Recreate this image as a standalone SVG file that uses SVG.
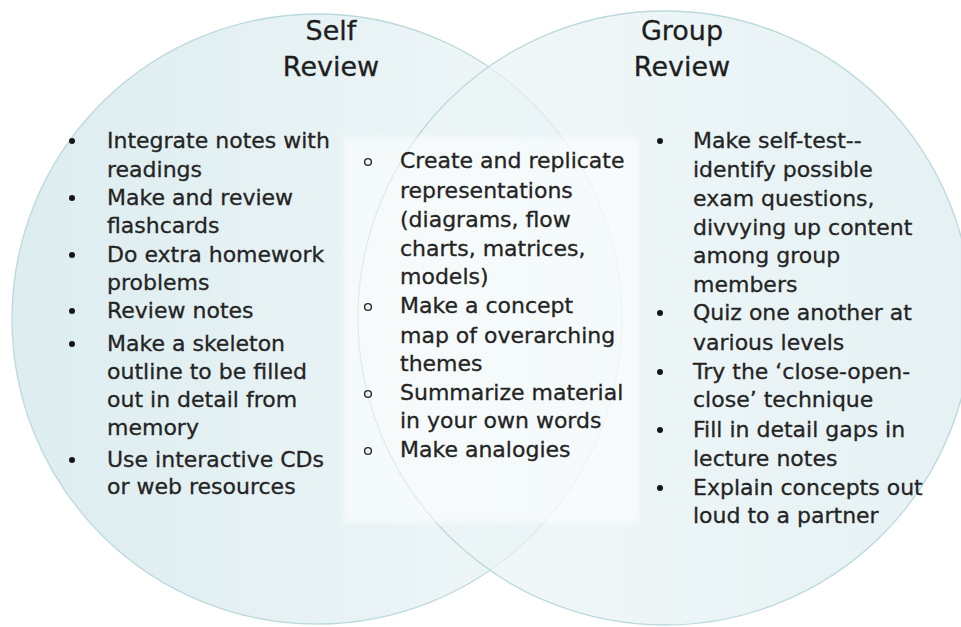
<svg xmlns="http://www.w3.org/2000/svg" width="961" height="627" viewBox="0 0 961 627">
  <defs>
    <linearGradient id="fillLeft" x1="0" y1="0" x2="1" y2="0">
      <stop offset="0" stop-color="#d9ebee"/>
      <stop offset="0.7" stop-color="#e9f3f5"/>
      <stop offset="1" stop-color="#eff6f7"/>
    </linearGradient>
    <linearGradient id="fillRight" x1="0" y1="0" x2="1" y2="0">
      <stop offset="0" stop-color="#eff6f7"/>
      <stop offset="0.3" stop-color="#e9f3f5"/>
      <stop offset="1" stop-color="#d9ebee"/>
    </linearGradient>
    <filter id="soft" x="-5%" y="-5%" width="110%" height="110%">
      <feGaussianBlur stdDeviation="2"/>
    </filter>
  </defs>
  <style>
    .ring { stroke: #bcd9dc; stroke-width: 1.3; }
    .title { font-family: "DejaVu Sans", Verdana, sans-serif; font-size: 27px; fill: #1e1e1e; stroke: #1e1e1e; stroke-width: 0.3; text-anchor: middle; }
    .item { font-family: "DejaVu Sans", Verdana, sans-serif; font-size: 22px; fill: #242424; stroke: #242424; stroke-width: 0.3; }
    .dot { fill: #151515; }
    .ring-bullet { fill: none; stroke: #242424; stroke-width: 1.4; }
  </style>

  <rect width="961" height="627" fill="#ffffff"/>

  <!-- two overlapping sets -->
  <g id="circles">
    <circle class="ring" cx="317" cy="319" r="305" fill="url(#fillLeft)" fill-opacity="0.9"/>
    <circle class="ring" cx="665" cy="318" r="307" fill="url(#fillRight)" fill-opacity="0.7"/>
  </g>

  <!-- Self Review -->
  <g id="self-review">
    <text class="title" x="331" y="40">Self</text>
    <text class="title" x="331" y="76">Review</text>
    <circle class="dot" cx="72" cy="141" r="3"/>
    <text class="item" x="107" y="148">Integrate notes with</text>
    <text class="item" x="107" y="177">readings</text>
    <circle class="dot" cx="72" cy="198" r="3"/>
    <text class="item" x="107" y="205">Make and review</text>
    <text class="item" x="107" y="233">flashcards</text>
    <circle class="dot" cx="72" cy="255" r="3"/>
    <text class="item" x="107" y="262">Do extra homework</text>
    <text class="item" x="107" y="290">problems</text>
    <circle class="dot" cx="72" cy="311" r="3"/>
    <text class="item" x="107" y="318">Review notes</text>
    <circle class="dot" cx="72" cy="344" r="3"/>
    <text class="item" x="107" y="351">Make a skeleton</text>
    <text class="item" x="107" y="379">outline to be filled</text>
    <text class="item" x="107" y="407">out in detail from</text>
    <text class="item" x="107" y="435">memory</text>
    <circle class="dot" cx="72" cy="460" r="3"/>
    <text class="item" x="107" y="467">Use interactive CDs</text>
    <text class="item" x="107" y="494">or web resources</text>
  </g>

  <!-- Shared strategies -->
  <g id="both">
    <rect x="343" y="137" width="295" height="386" fill="#ffffff" fill-opacity="0.5" filter="url(#soft)"/>
    <circle class="ring-bullet" cx="368" cy="162" r="3.4"/>
    <text class="item" x="400" y="168">Create and replicate</text>
    <text class="item" x="400" y="198">representations</text>
    <text class="item" x="400" y="227">(diagrams, flow</text>
    <text class="item" x="400" y="256">charts, matrices,</text>
    <text class="item" x="400" y="284">models)</text>
    <circle class="ring-bullet" cx="368" cy="307" r="3.4"/>
    <text class="item" x="400" y="313">Make a concept</text>
    <text class="item" x="400" y="343">map of overarching</text>
    <text class="item" x="400" y="371">themes</text>
    <circle class="ring-bullet" cx="368" cy="394" r="3.4"/>
    <text class="item" x="400" y="400">Summarize material</text>
    <text class="item" x="400" y="428">in your own words</text>
    <circle class="ring-bullet" cx="368" cy="451" r="3.4"/>
    <text class="item" x="400" y="457">Make analogies</text>
  </g>

  <!-- Group Review -->
  <g id="group-review">
    <text class="title" x="682" y="40">Group</text>
    <text class="title" x="682" y="76">Review</text>
    <circle class="dot" cx="660" cy="141" r="3"/>
    <text class="item" x="693" y="148">Make self-test--</text>
    <text class="item" x="693" y="177">identify possible</text>
    <text class="item" x="693" y="206">exam questions,</text>
    <text class="item" x="693" y="235">divvying up content</text>
    <text class="item" x="693" y="263">among group</text>
    <text class="item" x="693" y="292">members</text>
    <circle class="dot" cx="660" cy="313" r="3"/>
    <text class="item" x="693" y="320">Quiz one another at</text>
    <text class="item" x="693" y="350">various levels</text>
    <circle class="dot" cx="660" cy="372" r="3"/>
    <text class="item" x="693" y="379">Try the ‘close-open-</text>
    <text class="item" x="693" y="407">close’ technique</text>
    <circle class="dot" cx="660" cy="430" r="3"/>
    <text class="item" x="693" y="437">Fill in detail gaps in</text>
    <text class="item" x="693" y="466">lecture notes</text>
    <circle class="dot" cx="660" cy="488" r="3"/>
    <text class="item" x="693" y="495">Explain concepts out</text>
    <text class="item" x="693" y="523">loud to a partner</text>
  </g>
</svg>
